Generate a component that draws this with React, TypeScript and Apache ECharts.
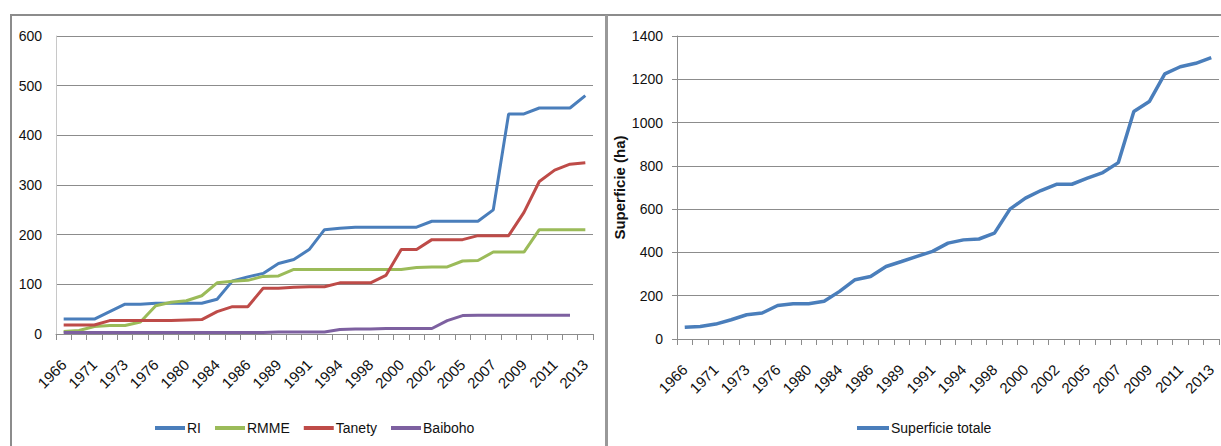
import React, { useEffect, useRef } from "react";
import * as echarts from "echarts";

const years = [
  "1966", "1970", "1971", "1972", "1973", "1975", "1976", "1978", "1980", "1982",
  "1984", "1985", "1986", "1988", "1989", "1990", "1991", "1993", "1994", "1996",
  "1998", "1999", "2000", "2001", "2002", "2004", "2005", "2006", "2007", "2008",
  "2009", "2010", "2011", "2012", "2013",
];

const riValues = [
  30, 30, 30, 45, 60, 60, 62, 62, 62, 62,
  70, 107, 115, 122, 142, 150, 170, 210, 213, 215,
  215, 215, 215, 215, 227, 227, 227, 227, 250, 443,
  443, 455, 455, 455, 480,
];
const rmmeValues = [
  5, 7, 15, 17, 17, 24, 57, 64, 67, 77,
  103, 106, 108, 116, 117, 130, 130, 130, 130, 130,
  130, 130, 130, 134, 135, 135, 147, 148, 165, 165,
  165, 210, 210, 210, 210,
];
const tanetyValues = [
  18, 18, 18, 27, 27, 27, 27, 27, 28, 29,
  45, 55, 55, 92, 92, 94, 95, 95, 103, 103,
  103, 118, 170, 170, 190, 190, 190, 198, 198, 198,
  245, 307, 330, 342, 345,
];
const baibohoValues = [
  3, 3, 3, 3, 3, 3, 3, 3, 3, 3,
  3, 3, 3, 3, 4, 4, 4, 4, 9, 10,
  10, 11, 11, 11, 11, 27, 37, 38, 38, 38,
  38, 38, 38, 38, null,
];
const totalValues = [
  54, 58, 69, 89, 112, 120, 155, 163, 163, 174,
  220, 274, 289, 335, 358, 382, 405, 443, 458, 462,
  489, 600, 651, 686, 715, 715, 743, 769, 815, 1051,
  1097, 1225, 1258, 1274, 1300,
];

const seriesNamesLeft = ["RI", "RMME", "Tanety", "Baiboho"];
const colorsLeft = ["#4a7ebb", "#9bbb59", "#be4b48", "#7d60a0"];
const totalName = "Superficie totale";
const yTitleRight = "Superficie (ha)";

const FONT = "'Liberation Sans', Arial, sans-serif";

export default function App() {
  const ref = useRef<HTMLDivElement>(null);
  useEffect(() => {
    if (!ref.current) return;
    const chart = echarts.init(ref.current, undefined, { renderer: "svg" });
    const xAxisCommon = (gridIndex: number) => ({
      type: "category" as const,
      gridIndex,
      data: years,
      boundaryGap: true,
      axisLine: { show: true, lineStyle: { color: "#8c8c8c", width: 1 } },
      axisTick: { show: true, interval: 0, length: 6, lineStyle: { color: "#8c8c8c" } },
      axisLabel: {
        interval: 1,
        rotate: 45,
        margin: 28,
        color: "#111",
        fontSize: 15,
        fontFamily: FONT,
      },
      splitLine: { show: false },
    });
    const leftData = [riValues, rmmeValues, tanetyValues, baibohoValues];
    chart.setOption({
      animation: false,
      textStyle: { fontFamily: FONT },
      graphic: [
        { type: "line", shape: { x1: 10, y1: 15, x2: 1221, y2: 15 }, style: { stroke: "#8c8c8c", lineWidth: 2 } },
        { type: "line", shape: { x1: 11, y1: 15, x2: 11, y2: 446 }, style: { stroke: "#8c8c8c", lineWidth: 2 } },
        { type: "line", shape: { x1: 606.5, y1: 15, x2: 606.5, y2: 446 }, style: { stroke: "#999", lineWidth: 3 } },
      ],
      grid: [
        { left: 56, top: 36, width: 537, height: 298 },
        { left: 677, top: 36, width: 542, height: 303 },
      ],
      legend: [
        {
          data: seriesNamesLeft,
          left: 150,
          top: 416,
          icon: "rect",
          itemWidth: 30,
          itemHeight: 4,
          itemGap: 14,
          textStyle: { fontSize: 14, color: "#111", fontFamily: FONT, padding: [0, 0, 0, -3] },
        },
        {
          data: [totalName],
          left: 852,
          top: 416,
          icon: "rect",
          itemWidth: 32,
          itemHeight: 4,
          textStyle: { fontSize: 14, color: "#111", fontFamily: FONT, padding: [0, 0, 0, -3] },
        },
      ],
      xAxis: [xAxisCommon(0), xAxisCommon(1)],
      yAxis: [
        {
          type: "value",
          gridIndex: 0,
          min: 0,
          max: 600,
          interval: 100,
          axisLine: { show: true, lineStyle: { color: "#c8c8c8" } },
          axisTick: { show: false },
          axisLabel: { color: "#111", fontSize: 14, fontFamily: FONT, margin: 14, formatter: (v: number) => String(v) },
          splitLine: { show: true, lineStyle: { color: "#8c8c8c", width: 1 } },
        },
        {
          type: "value",
          gridIndex: 1,
          min: 0,
          max: 1400,
          interval: 200,
          name: yTitleRight,
          nameLocation: "middle",
          nameGap: 50,
          nameTextStyle: { fontSize: 15, fontWeight: "bold", color: "#111", fontFamily: FONT },
          axisLine: { show: true, lineStyle: { color: "#8c8c8c" } },
          axisTick: { show: true, length: 5, lineStyle: { color: "#8c8c8c" } },
          axisLabel: { color: "#111", fontSize: 14, fontFamily: FONT, margin: 14, formatter: (v: number) => String(v) },
          splitLine: { show: true, lineStyle: { color: "#8c8c8c", width: 1 } },
        },
      ],
      series: [
        ...seriesNamesLeft.map((name, i) => ({
          name,
          type: "line",
          xAxisIndex: 0,
          yAxisIndex: 0,
          data: leftData[i],
          symbol: "none",
          color: colorsLeft[i],
          lineStyle: { width: 3, color: colorsLeft[i] },
          connectNulls: false,
        })),
        {
          name: totalName,
          type: "line",
          xAxisIndex: 1,
          yAxisIndex: 1,
          data: totalValues,
          symbol: "none",
          color: "#4a7ebb",
          lineStyle: { width: 3.5, color: "#4a7ebb" },
        },
      ],
    });
    return () => chart.dispose();
  }, []);
  return (
    <div
      ref={ref}
      style={{ position: "absolute", left: 0, top: 0, width: 1221, height: 446, background: "#fff" }}
    />
  );
}
